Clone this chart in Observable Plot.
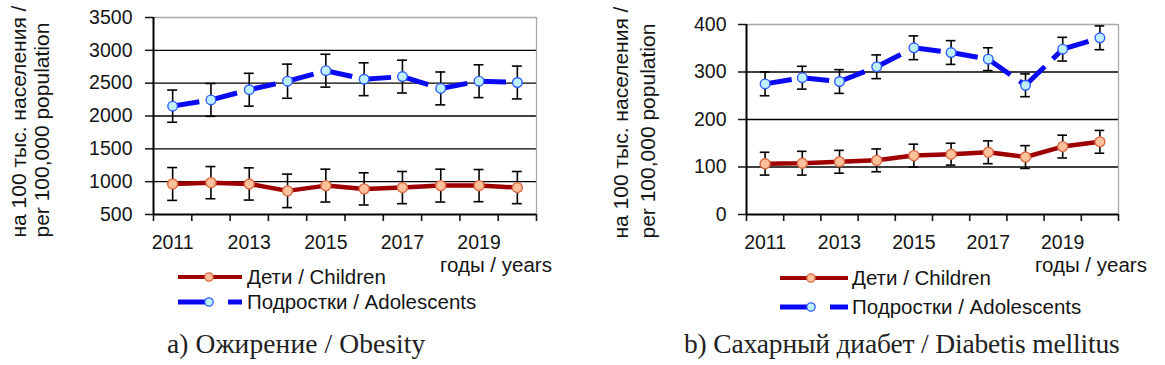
<!DOCTYPE html>
<html>
<head>
<meta charset="utf-8">
<script src="https://cdn.jsdelivr.net/npm/d3@7"></script>
<script src="https://cdn.jsdelivr.net/npm/@observablehq/plot@0.6"></script>
<style>
  html, body { margin: 0; padding: 0; background: #fff; }
  #wrap { position: relative; width: 1165px; height: 365px; overflow: hidden; background: #fff; font-family: "Liberation Sans", Arial, sans-serif; color: #111; }
  .abs { position: absolute; white-space: nowrap; }
  .lbl { font-size: 20.5px; line-height: 20px; color: #151515; }
  .cap { font-family: "Liberation Serif", "Times New Roman", serif; font-size: 27.5px; line-height: 27px; color: #222; }
</style>
</head>
<body>
<div id="wrap"></div>
<script>
// ---------- data ----------
const years = [2011, 2012, 2013, 2014, 2015, 2016, 2017, 2018, 2019, 2020];
const labelYears = [2011, 2013, 2015, 2017, 2019];
const bandEdges = [2010.5, 2011.5, 2012.5, 2013.5, 2014.5, 2015.5, 2016.5, 2017.5, 2018.5, 2019.5, 2020.5];

// a) Obesity
const obesityChildren      = [965, 985, 965, 860, 940, 890, 910, 940, 940, 910];
const obesityChildrenErr   = [250, 245, 245, 255, 250, 245, 245, 250, 245, 245];
const obesityAdolescents    = [2150, 2245, 2400, 2530, 2690, 2560, 2600, 2420, 2530, 2510];
const obesityAdolescentsErr = [245, 250, 250, 260, 250, 250, 250, 250, 250, 250];
const obesityTicks = [500, 1000, 1500, 2000, 2500, 3000, 3500];

// b) Diabetes mellitus
const diabetesChildren      = [107, 108, 111, 114, 124, 127, 131, 121, 143, 153];
const diabetesChildrenErr   = [24, 25, 24, 24, 24, 23, 24, 24, 24, 24];
const diabetesAdolescents    = [275, 288, 280, 311, 351, 341, 327, 272, 348, 372];
const diabetesAdolescentsErr = [25, 24, 25, 25, 25, 25, 24, 24, 25, 25];
const diabetesTicks = [0, 100, 200, 300, 400];

const yTitle1 = "на 100 тыс. населения /";
const yTitle2 = "per 100,000 population";
const xTitle = "годы / years";
const seriesNames = ["Дети / Children", "Подростки / Adolescents"];
const captions = ["а) Ожирение / Obesity", "b) Сахарный диабет / Diabetis mellitus"];

// ---------- style ----------
const RED = "#9e0000", RED_FILL = "#fdc29b", RED_EDGE = "#dc6a45";
const BLUE = "#0a0af2", BLUE_FILL = "#bff0ff", BLUE_EDGE = "#2d5cff";

function rows(vals, errs) {
  return years.map((year, i) => ({year, v: vals[i], e: errs[i]}));
}
function segments(r) {
  return r.slice(0, -1).map((d, i) => ({x1: d.year, y1: d.v, x2: r[i + 1].year, y2: r[i + 1].v}));
}

function chart(o) {
  const kids = rows(o.children, o.childrenErr);
  const teens = rows(o.adolescents, o.adolescentsErr);
  const yMin = o.ticks[0], yMax = o.ticks[o.ticks.length - 1];
  const cap = 0.13;
  const errMarks = (r) => [
    Plot.ruleX(r, {x: "year", y1: d => d.v - d.e, y2: d => d.v + d.e, stroke: "#000", strokeWidth: 1.6}),
    Plot.ruleY(r, {y: d => d.v + d.e, x1: d => d.year - cap, x2: d => d.year + cap, stroke: "#000", strokeWidth: 1.6}),
    Plot.ruleY(r, {y: d => d.v - d.e, x1: d => d.year - cap, x2: d => d.year + cap, stroke: "#000", strokeWidth: 1.6})
  ];
  return Plot.plot({
    width: o.width, height: o.height,
    marginLeft: o.ml, marginRight: o.mr, marginTop: o.mt, marginBottom: o.mb,
    style: {fontFamily: "'Liberation Sans', Arial, sans-serif", fontSize: "19px", color: "#151515", background: "transparent", overflow: "visible"},
    x: {type: "linear", domain: [bandEdges[0], bandEdges[bandEdges.length - 1]], axis: null},
    y: {domain: [yMin, yMax], axis: null},
    marks: [
      Plot.ruleY(o.ticks.slice(1, -1), {stroke: "#000", strokeWidth: 1.3}),
      Plot.ruleY([yMax], {stroke: "#a8a8a8", strokeWidth: 1.3}),
      Plot.ruleX([bandEdges[bandEdges.length - 1]], {stroke: "#a8a8a8", strokeWidth: 1.3}),
      Plot.axisY({ticks: o.ticks, tickSize: 8, tickPadding: o.tp, tickFormat: d => String(d), label: null, fontSize: 19.5, strokeWidth: 1.5}),
      Plot.axisX({ticks: bandEdges, tickSize: 7, tickFormat: () => "", label: null, strokeWidth: 1.6}),
      Plot.axisX({ticks: labelYears, tickSize: 0, tickPadding: 21, tickFormat: d => String(d), label: null, fontSize: 19.5}),
      Plot.ruleY([yMin], {stroke: "#000", strokeWidth: 2}),
      Plot.ruleX([bandEdges[0]], {stroke: "#000", strokeWidth: 2}),
      Plot.line(kids, {x: "year", y: "v", stroke: RED, strokeWidth: 4.5}),
      Plot.link(segments(teens), {x1: "x1", y1: "y1", x2: "x2", y2: "y2", stroke: BLUE, strokeWidth: 5, strokeDasharray: "27,11"}),
      ...errMarks(kids),
      ...errMarks(teens),
      Plot.dot(kids, {x: "year", y: "v", r: 5, fill: RED_FILL, stroke: RED_EDGE, strokeWidth: 1.4}),
      Plot.dot(teens, {x: "year", y: "v", r: 4.8, fill: BLUE_FILL, stroke: BLUE_EDGE, strokeWidth: 1.4}),
      Plot.text([yTitle1], {text: d => d, frameAnchor: "bottom-left", rotate: -90, textAnchor: "start", dx: o.t1dx, dy: o.tdy, fontSize: 21}),
      Plot.text([yTitle2], {text: d => d, frameAnchor: "bottom-left", rotate: -90, textAnchor: "start", dx: o.t2dx, dy: o.tdy, fontSize: 21})
    ]
  });
}

const wrap = document.getElementById("wrap");
function place(el, left, top) {
  el.style.position = "absolute"; el.style.left = left + "px"; el.style.top = top + "px";
  wrap.appendChild(el);
}
function text(str, cls, left, top) {
  const d = document.createElement("div");
  d.className = "abs " + cls; d.textContent = str;
  d.style.left = left + "px"; d.style.top = top + "px";
  wrap.appendChild(d);
  return d;
}
const NS = "http://www.w3.org/2000/svg";
function swatch(left, top, kind, len, c) {
  const s = document.createElementNS(NS, "svg");
  s.setAttribute("width", 70); s.setAttribute("height", 14);
  s.style.position = "absolute"; s.style.left = left + "px"; s.style.top = top + "px"; s.style.overflow = "visible";
  const mk = (tag, attrs) => { const e = document.createElementNS(NS, tag); for (const k in attrs) e.setAttribute(k, attrs[k]); s.appendChild(e); };
  if (kind === 0) {
    mk("line", {x1: 0, y1: 7, x2: len, y2: 7, stroke: RED, "stroke-width": 4.2});
    mk("circle", {cx: c, cy: 7, r: 4.2, fill: RED_FILL, stroke: RED_EDGE, "stroke-width": 1.3});
  } else {
    mk("line", {x1: 0, y1: 7, x2: c - 2, y2: 7, stroke: BLUE, "stroke-width": 5});
    mk("line", {x1: c + 19, y1: 7, x2: len, y2: 7, stroke: BLUE, "stroke-width": 5});
    mk("circle", {cx: c, cy: 7, r: 4.2, fill: BLUE_FILL, stroke: BLUE_EDGE, "stroke-width": 1.3});
  }
  wrap.appendChild(s);
}

// left chart
place(chart({
  children: obesityChildren, childrenErr: obesityChildrenErr,
  adolescents: obesityAdolescents, adolescentsErr: obesityAdolescentsErr,
  ticks: obesityTicks, width: 560, height: 260, ml: 153, mr: 24, mt: 17, mb: 46, tp: 13,
  t1dx: -128, t2dx: -105, tdy: 23
}), 0, 0);

// right chart
place(chart({
  children: diabetesChildren, childrenErr: diabetesChildrenErr,
  adolescents: diabetesAdolescents, adolescentsErr: diabetesAdolescentsErr,
  ticks: diabetesTicks, width: 585, height: 260, ml: 166, mr: 47, mt: 24, mb: 46, tp: 12,
  t1dx: -119, t2dx: -92, tdy: 24
}), 580, 0);

// x titles
text(xTitle, "lbl", 440, 255);
text(xTitle, "lbl", 1035, 255);

// legends
swatch(178, 270, 0, 64, 31); text(seriesNames[0], "lbl", 247, 267);
swatch(178, 295, 1, 64, 31); text(seriesNames[1], "lbl", 247, 292);
swatch(780, 271, 0, 68, 31); text(seriesNames[0], "lbl", 852, 268);
swatch(780, 300, 1, 68, 31); text(seriesNames[1], "lbl", 852, 297);

// captions (fitted to the reference widths)
function caption(str, left, right) {
  const d = text(str, "cap", left, 330);
  const w = d.offsetWidth;
  const ls = (right - left - w) / Math.max(1, str.length - 1);
  d.style.letterSpacing = ls.toFixed(2) + "px";
}
caption(captions[0], 167, 425);
caption(captions[1], 684, 1120);
</script>
</body>
</html>
